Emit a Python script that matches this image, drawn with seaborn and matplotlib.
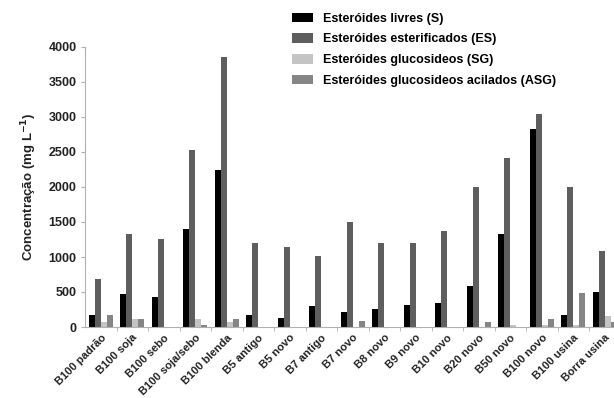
import pandas as pd
import numpy as np
import matplotlib
matplotlib.use("Agg")
import matplotlib.pyplot as plt
import seaborn as sns

amostras = ["B100 padrão", "B100 soja", "B100 sebo", "B100 soja/sebo", "B100 blenda",
            "B5 antigo", "B5 novo", "B7 antigo", "B7 novo", "B8 novo", "B9 novo",
            "B10 novo", "B20 novo", "B50 novo", "B100 novo", "B100 usina", "Borra usina"]
series = ["Esteróides livres (S)", "Esteróides esterificados (ES)",
          "Esteróides glucosideos (SG)", "Esteróides glucosideos acilados (ASG)"]

livres_s = [167, 467, 433, 1395, 2247, 167, 124, 295, 214, 262, 319, 343, 586, 1324, 2822, 167, 500]
esterificados_es = [690, 1324, 1257, 2522, 3853, 1200, 1143, 1014, 1505, 1200, 1200, 1367, 1995, 2413, 3045, 2000, 1081]
glucosideos_sg = [70, 119, 0, 119, 75, 0, 0, 0, 0, 0, 0, 0, 0, 24, 30, 33, 157]
acilados_asg = [176, 119, 0, 33, 110, 0, 0, 0, 86, 0, 0, 0, 67, 0, 119, 486, 71]

cores = ["#000000", "#5e5e5e", "#c4c4c4", "#858585"]

df = pd.DataFrame({"amostra": amostras * 4,
                   "serie": np.repeat(series, len(amostras)),
                   "valor": livres_s + esterificados_es + glucosideos_sg + acilados_asg})

plt.rcParams['font.family'] = ['Liberation Sans', 'DejaVu Sans']
fig = plt.figure(figsize=(6.14, 3.98), dpi=100)
ax = fig.add_axes([85/614, 1-327/398, 535.5/614, 280/398])

sns.barplot(data=df, x="amostra", y="valor", hue="serie", hue_order=series,
            palette=cores, width=0.76, gap=0, saturation=1, ax=ax, legend=True)

ax.set_xlim(-0.5, len(amostras)-0.5)
ax.set_ylim(0, 4000)
ax.set_yticks(range(0, 4001, 500))
ax.set_xlabel("")
ax.set_ylabel("Concentração (mg L$^{\\mathbf{-1}}$)", fontsize=9.5, fontweight="bold", labelpad=7, color="#222222")
for s in ["top", "right"]:
    ax.spines[s].set_visible(False)
for s in ["left", "bottom"]:
    ax.spines[s].set_color("#b0b0b0")
    ax.spines[s].set_linewidth(0.8)

ax.tick_params(axis="y", labelsize=9, length=3, color="#b0b0b0", colors="#222222", pad=3)
ax.tick_params(axis="x", which="major", length=0, labelsize=8, pad=4)
ax.set_xticks(np.arange(len(amostras)-1) + 0.5, minor=True)
ax.tick_params(axis="x", which="minor", length=3, color="#b0b0b0")
plt.setp(ax.get_xticklabels(), rotation=45, ha="right", rotation_mode="anchor", fontweight="bold", color="#222222")
plt.setp(ax.get_yticklabels(), fontweight="bold")

leg = ax.legend(loc="upper left", bbox_to_anchor=(0.4756, 0.968), bbox_transform=fig.transFigure,
                frameon=False, fontsize=9, handlelength=1.7, handleheight=0.8,
                labelspacing=0.68, handletextpad=0.8, borderaxespad=0, borderpad=0)
for t in leg.get_texts():
    t.set_fontweight("bold")

fig.savefig("out.png", dpi=100)
